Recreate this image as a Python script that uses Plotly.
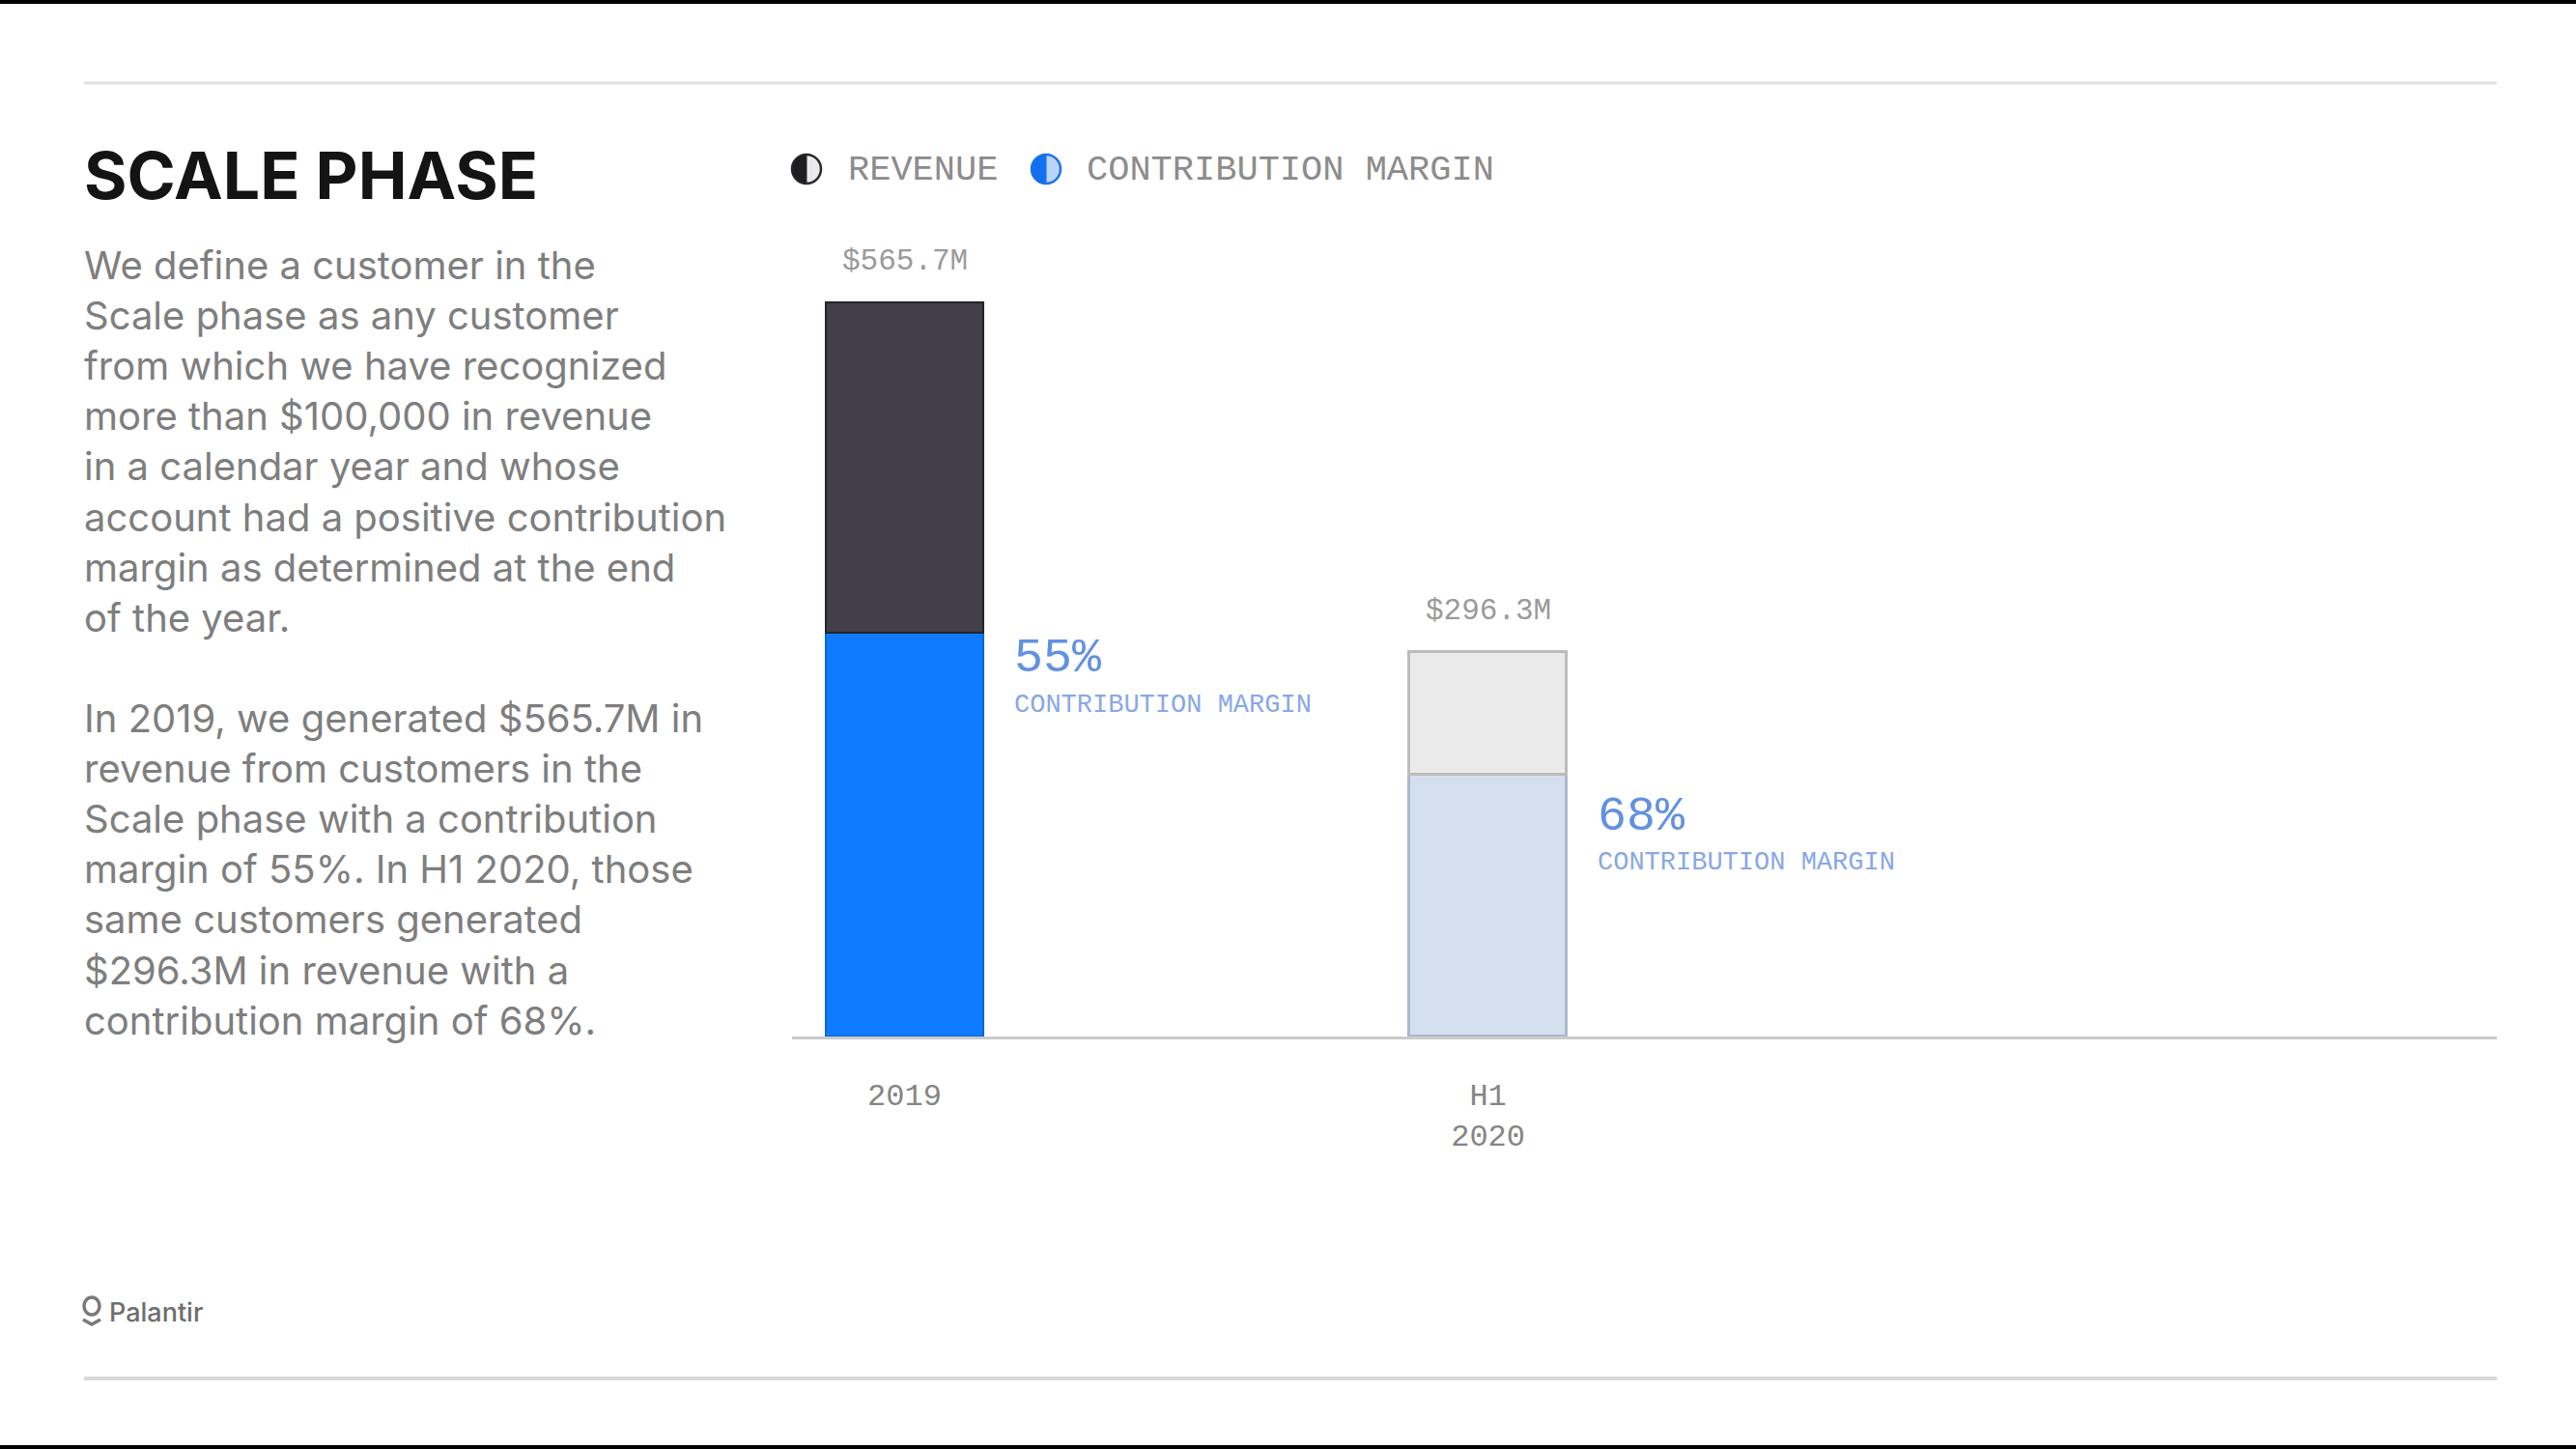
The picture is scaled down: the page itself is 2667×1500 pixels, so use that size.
import plotly.graph_objects as go

# ---------------- data ----------------
categories = ["2019", "H1 2020"]
tick_labels = ["2019", "H1<br>2020"]
revenue = [565.7, 296.3]            # $M
contribution_margin = [0.55, 0.68]  # share of revenue
revenue_labels = ["$565.7M", "$296.3M"]
margin_labels = ["55%", "68%"]

title_text = "SCALE PHASE"
para1 = ["We define a customer in the",
         "Scale phase as any customer",
         "from which we have recognized",
         "more than $100,000 in revenue",
         "in a calendar year and whose",
         "account had a positive contribution",
         "margin as determined at the end",
         "of the year."]
para2 = ["In 2019, we generated $565.7M in",
         "revenue from customers in the",
         "Scale phase with a contribution",
         "margin of 55%. In H1 2020, those",
         "same customers generated",
         "$296.3M in revenue with a",
         "contribution margin of 68%."]

# ---------------- layout geometry (pixels) ----------------
FW, FH = 2667, 1500
L, R, T, B = 820, 2585, 200, 1073
W, H = R - L, B - T


def xp(px):
    return (px - L) / W


def yp(py):
    return (B - py) / H


x_pos = list(range(len(categories)))
bar_w = 0.27
margin_part = [r * m for r, m in zip(revenue, contribution_margin)]
rest_part = [r - mp for r, mp in zip(revenue, margin_part)]

MONO = "Liberation Mono"
SANS = "Inter"

fig = go.Figure()
fig.add_trace(go.Bar(
    x=x_pos, y=margin_part, width=bar_w, name="CONTRIBUTION MARGIN",
    marker=dict(color=["#0f7bff", "#d5e0ef"],
                line=dict(color=["#0a66dc", "#a9b8ce"], width=[2, 3])),
    hoverinfo="skip"))
fig.add_trace(go.Bar(
    x=x_pos, y=rest_part, width=bar_w, name="REVENUE",
    marker=dict(color=["#423f4a", "#ebebeb"],
                line=dict(color=["#26242b", "#bcbcbc"], width=[2, 3])),
    hoverinfo="skip"))

annotations = []
shapes = []

# title
annotations.append(dict(xref="paper", yref="paper", x=xp(85), y=yp(181),
                        xanchor="left", yanchor="middle", showarrow=False,
                        text=title_text,
                        font=dict(family=SANS, size=68, color="#141414", weight=700)))
# body text
LS = 52.2
for i, line in enumerate(para1):
    annotations.append(dict(xref="paper", yref="paper", x=xp(85), y=yp(274 + i * LS),
                            xanchor="left", yanchor="middle", showarrow=False, text=line,
                            font=dict(family=SANS, size=40, color="#7e7e7e")))
for i, line in enumerate(para2):
    annotations.append(dict(xref="paper", yref="paper", x=xp(85), y=yp(743 + i * LS),
                            xanchor="left", yanchor="middle", showarrow=False, text=line,
                            font=dict(family=SANS, size=40, color="#7e7e7e")))

# legend (custom half-filled circles)
k = 0.5523


def half_circle_path(cx, cy, r):
    pts = [(cx, cy - r),
           (cx - k * r, cy - r), (cx - r, cy - k * r), (cx - r, cy),
           (cx - r, cy + k * r), (cx - k * r, cy + r), (cx, cy + r)]
    p = [(xp(a), yp(b)) for a, b in pts]
    return ("M {0[0]},{0[1]} C {1[0]},{1[1]} {2[0]},{2[1]} {3[0]},{3[1]} "
            "C {4[0]},{4[1]} {5[0]},{5[1]} {6[0]},{6[1]} Z").format(*p)


legend_items = [("REVENUE", 835, "#1e1e22", "#e9e9e9", "#2a2a2e", 876),
                ("CONTRIBUTION MARGIN", 1083, "#1170ee", "#b9d4f6", "#1a74ea", 1123)]
for label, cx, dark, light, edge, tx in legend_items:
    r = 15
    shapes.append(dict(type="circle", xref="paper", yref="paper",
                       x0=xp(cx - r), x1=xp(cx + r), y0=yp(175 + r), y1=yp(175 - r),
                       fillcolor=light, line=dict(color=edge, width=2.5), layer="above"))
    shapes.append(dict(type="path", xref="paper", yref="paper",
                       path=half_circle_path(cx, 175, r),
                       fillcolor=dark, line=dict(color=edge, width=1), layer="above"))
    annotations.append(dict(xref="paper", yref="paper", x=xp(tx), y=yp(176),
                            xanchor="left", yanchor="middle", showarrow=False, text=label,
                            font=dict(family=MONO, size=37, color="#8c8c8c")))

# value labels above bars
for i, lab in enumerate(revenue_labels):
    annotations.append(dict(xref="x", yref="y", x=x_pos[i], y=revenue[i],
                            xanchor="center", yanchor="middle", yshift=43,
                            showarrow=False, text=lab,
                            font=dict(family=MONO, size=31, color="#9a9a9a")))

# contribution margin labels
pct_shift = [-26, -43]
sub_shift = [-75, -91]
for i, lab in enumerate(margin_labels):
    annotations.append(dict(xref="x", yref="y", x=x_pos[i] + bar_w / 2, y=margin_part[i],
                            xanchor="left", yanchor="middle", xshift=30, yshift=pct_shift[i],
                            showarrow=False, text=lab,
                            font=dict(family=MONO, size=50, color="#6290e2")))
    annotations.append(dict(xref="x", yref="y", x=x_pos[i] + bar_w / 2, y=margin_part[i],
                            xanchor="left", yanchor="middle", xshift=30, yshift=sub_shift[i],
                            showarrow=False, text="CONTRIBUTION MARGIN",
                            font=dict(family=MONO, size=27, color="#88a8e6")))

# horizontal rules & frame bands
shapes.append(dict(type="line", xref="paper", yref="paper", x0=xp(87), x1=xp(2585),
                   y0=yp(86), y1=yp(86), line=dict(color="#e1e1e1", width=3)))
shapes.append(dict(type="line", xref="paper", yref="paper", x0=xp(87), x1=xp(2585),
                   y0=yp(1427), y1=yp(1427), line=dict(color="#d9d9d9", width=4)))
shapes.append(dict(type="rect", xref="paper", yref="paper", x0=xp(0), x1=xp(FW),
                   y0=yp(0), y1=yp(4), fillcolor="#000000", line=dict(width=0)))
shapes.append(dict(type="rect", xref="paper", yref="paper", x0=xp(0), x1=xp(FW),
                   y0=yp(1496), y1=yp(1500), fillcolor="#000000", line=dict(width=0)))

# Palantir logo (ring + base) and wordmark
shapes.append(dict(type="circle", xref="paper", yref="paper",
                   x0=xp(87), x1=xp(103), y0=yp(1361), y1=yp(1343),
                   line=dict(color="#7a7a7a", width=3.5)))
shapes.append(dict(type="path", xref="paper", yref="paper",
                   path="M {},{} L {},{} L {},{}".format(xp(86), yp(1366), xp(95), yp(1371),
                                                         xp(104), yp(1366)),
                   line=dict(color="#7a7a7a", width=3.5)))
annotations.append(dict(xref="paper", yref="paper", x=xp(111), y=yp(1358),
                        xanchor="left", yanchor="middle", showarrow=False, text="Palantir",
                        font=dict(family=SANS, size=27, color="#6e6e6e", weight=500)))

fig.update_layout(
    width=FW, height=FH,
    margin=dict(l=L, r=FW - R, t=T, b=FH - B, pad=0),
    paper_bgcolor="#ffffff", plot_bgcolor="#ffffff",
    barmode="stack", bargap=0, showlegend=False,
    annotations=annotations, shapes=shapes,
    xaxis=dict(range=[-0.1929, 2.729], tickmode="array", tickvals=x_pos,
               ticktext=tick_labels, showgrid=False, zeroline=False,
               showline=True, linecolor="#cbcbcb", linewidth=3, ticks="",
               ticklabelstandoff=30,
               tickfont=dict(family=MONO, size=32, color="#858585")),
    yaxis=dict(range=[0, 650], visible=False, showgrid=False, zeroline=False),
)

fig.write_html("out.html",
               config={"displayModeBar": False},
               post_script="document.body.style.margin='0px';"
                           "document.body.style.overflow='hidden';")
